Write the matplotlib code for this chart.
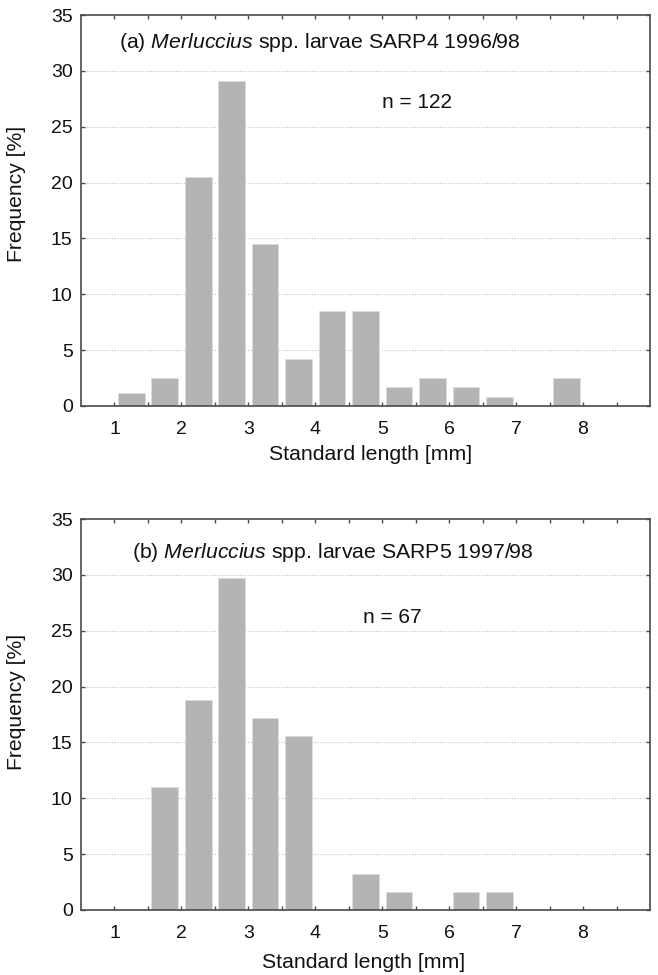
import matplotlib
matplotlib.use("Agg")
import matplotlib.pyplot as plt
import numpy as np

# ---- data ----
bin_starts = [1.0, 1.5, 2.0, 2.5, 3.0, 3.5, 4.0, 4.5, 5.0, 5.5, 6.0, 6.5, 7.0, 7.5, 8.0]
freq_a = [1.2, 2.5, 20.5, 29.1, 14.5, 4.2, 8.5, 8.5, 1.7, 2.5, 1.7, 0.8, 0.0, 2.5, 0.0]
freq_b = [0.0, 11.0, 18.8, 29.7, 17.2, 15.6, 0.0, 3.2, 1.6, 0.0, 1.6, 1.6, 0.0, 0.0, 0.0]
title_a = ("(a)", "Merluccius", "spp. larvae SARP4 1996/98")
title_b = ("(b)", "Merluccius", "spp. larvae SARP5 1997/98")
n_a = "n = 122"
n_b = "n = 67"
xtick_labels = [1, 2, 3, 4, 5, 6, 7, 8]
yticks = [0, 5, 10, 15, 20, 25, 30, 35]
xlabel = "Standard length [mm]"
ylabel = "Frequency [%]"

plt.rcParams['font.family'] = ['Liberation Sans', 'DejaVu Sans']
plt.rcParams['mathtext.fontset'] = 'custom'
plt.rcParams['mathtext.rm'] = 'Liberation Sans'
plt.rcParams['mathtext.it'] = 'Liberation Sans:italic'

W, H = 658, 975
fig = plt.figure(figsize=(W / 100, H / 100), dpi=100)

def px_axes(l, t, r, b):
    return fig.add_axes([l / W, 1 - b / H, (r - l) / W, (b - t) / H])

spine_col = '#4a4a4a'
bar_col = '#b4b4b4'
txt_col = '#111111'

def draw(ax, freq, title, ntext, ntx, nty, tx, ty, ylab_y, xlab_px):
    centers = np.array(bin_starts) + 0.25
    ax.bar(centers, freq, width=0.4, color=bar_col, edgecolor='#dcdcdc',
           linewidth=0.6, zorder=2)
    ax.set_xlim(0.5, 9.0)
    ax.set_ylim(0, 35)
    ax.set_yticks(yticks)
    ax.set_xticks(xtick_labels)
    ax.set_xticks(np.arange(1.5, 8.6, 1.0), minor=True)
    ax.set_xticklabels([str(v) for v in xtick_labels])
    for s in ax.spines.values():
        s.set_color(spine_col)
        s.set_linewidth(1.2)
    ax.tick_params(axis='both', which='both', direction='in', length=3,
                   width=1.0, color=spine_col, top=True, right=True,
                   labelsize=14, labelcolor=txt_col)
    ax.tick_params(axis='x', which='both', pad=11)
    ax.tick_params(axis='y', which='both', pad=6)
    for yv in yticks[1:-1]:
        ax.axhline(yv, color='#c4c4c4', lw=0.8, ls=(0, (1, 1.5)), zorder=1)
    ax.text(tx, ty, title[0] + " $\\mathit{" + title[1] + "}$ " + title[2],
            fontsize=15.3, va='center', ha='left', color=txt_col)
    ax.text(ntx, nty, ntext, fontsize=15, va='center', ha='center', color=txt_col)
    ax.set_ylabel(ylabel, fontsize=15.2, color=txt_col)
    ax.yaxis.set_label_coords(-0.097, ylab_y)
    fig.text(xlab_px[0] / W, 1 - xlab_px[1] / H, xlabel, fontsize=15.3,
             ha='center', va='center', color=txt_col)

ax1 = px_axes(81, 15, 650, 406)
draw(ax1, freq_a, title_a, n_a, 5.52, 27.2, 1.07, 32.5, 0.542, (371, 455))

ax2 = px_axes(81, 519, 650, 910)
draw(ax2, freq_b, title_b, n_b, 5.15, 26.2, 1.26, 32.0, 0.532, (364, 963))

fig.savefig("out.png", dpi=100)
